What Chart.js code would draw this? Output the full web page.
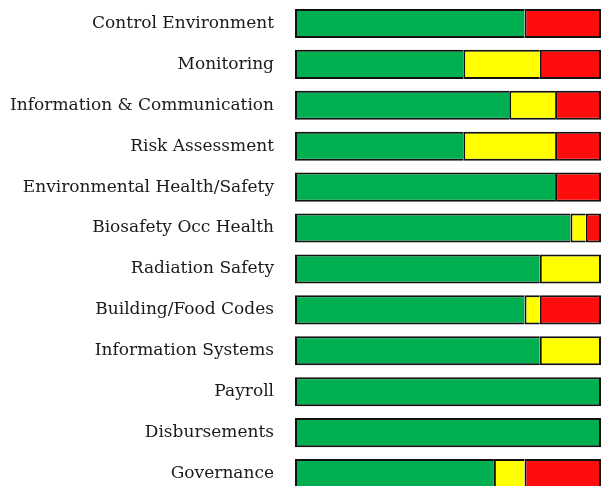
<!DOCTYPE html>
<html>
<head>
<meta charset="utf-8">
<script src="https://cdn.jsdelivr.net/npm/chart.js@4.4.0/dist/chart.umd.min.js"></script>
<style>
  html, body { margin: 0; padding: 0; background: #ffffff; overflow: hidden; }
  #wrap { width: 602px; height: 494px; position: relative; }
</style>
</head>
<body>
<div id="wrap"><canvas id="status-chart"></canvas></div>
<script>
// Categorias e percentuais por status
const categories = [
    'Control Environment',
    'Monitoring',
    'Information & Communication',
    'Risk Assessment',
    'Environmental Health/Safety',
    'Biosafety Occ Health',
    'Radiation Safety',
    'Building/Food Codes',
    'Information Systems',
    'Payroll',
    'Disbursements',
    'Governance'
];
const greenValues  = [75, 55, 70, 55, 85, 90, 80, 75, 80, 100, 100, 65];
const yellowValues = [0, 25, 15, 30, 0, 5, 20, 5, 20, 0, 0, 10];
const redValues    = [25, 20, 15, 15, 15, 5, 0, 20, 0, 0, 0, 25];
const allSeries = [greenValues, yellowValues, redValues];

// Pula a borda direita quando existe outro segmento depois (evita linha dupla)
function skipInner(context) {
    const later = allSeries.slice(context.datasetIndex + 1);
    const hasNext = later.some(s => s[context.dataIndex] > 0);
    return hasNext ? 'end' : false;
}

function makeSet(label, data, color) {
    return {
        label: label,
        data: data,
        backgroundColor: color,
        borderColor: '#111111',
        borderWidth: 2,
        borderSkipped: skipInner,
        barPercentage: 0.71,
        categoryPercentage: 1.0
    };
}

const ctx = document.getElementById('status-chart');
new Chart(ctx, {
    type: 'bar',
    data: {
        labels: categories,
        datasets: [
            makeSet('Green', greenValues, '#00b050'),
            makeSet('Yellow', yellowValues, '#ffff00'),
            makeSet('Red', redValues, '#ff0d0d')
        ]
    },
    options: {
        indexAxis: 'y',
        responsive: true,
        maintainAspectRatio: false,
        animation: false,
        layout: {
            padding: { top: 3, right: 1, bottom: 0, left: 0 }
        },
        plugins: {
            legend: { display: false },
            tooltip: { enabled: false }
        },
        scales: {
            x: {
                stacked: true,
                min: 0,
                max: 100,
                display: false
            },
            y: {
                stacked: true,
                grid: { display: false, drawTicks: false },
                border: { display: false },
                afterFit: function(scale) {
                    // largura fixa e sem folga vertical extra
                    scale.width = 295;
                    scale.paddingTop = 0;
                    scale.paddingBottom = 0;
                },
                ticks: {
                    color: '#1a1a1a',
                    padding: 21,
                    font: {
                        family: 'DejaVu Serif',
                        size: 17
                    }
                }
            }
        }
    }
});
</script>
</body>
</html>
